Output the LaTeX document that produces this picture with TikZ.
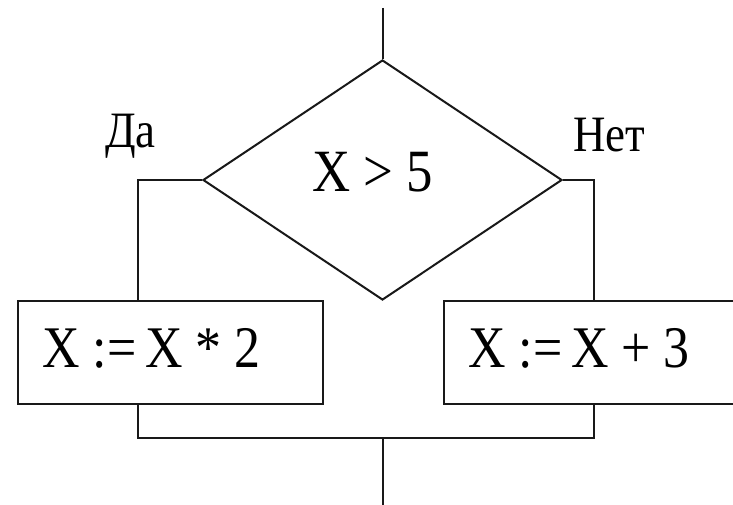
\documentclass[tikz,border=0pt]{standalone}
\usepackage{fontspec}
\newfontfamily\tms{LiberationSerif}[Extension=.ttf,UprightFont=*-Regular]
\usetikzlibrary{shapes.geometric}
\newcommand{\narrowtxt}[1]{\scalebox{0.88}[1]{#1}}
\begin{document}
\begin{tikzpicture}[x=1pt,y=-1pt,
  line/.style={line width=2pt,draw=black!90},
  boxstyle/.style={draw=black!90,line width=2pt,rectangle,inner sep=0pt,anchor=north west},
  bigtext/.style={font=\tms\fontsize{59}{60}\selectfont,inner sep=0pt},
  lbltext/.style={font=\tms\fontsize{51}{52}\selectfont,inner sep=0pt}]
\useasboundingbox (0,0) rectangle (733,505);
\clip (0,0) rectangle (733,505);
% decision
\node[diamond,draw=black!90,line width=2pt,minimum width=359pt,minimum height=240pt,aspect=1.496,inner sep=0pt] (d) at (382.5,180) {};
\node[bigtext,font=\tms\fontsize{60}{61}\selectfont,anchor=base] (cond) at (373,192) {\narrowtxt{X > 5}};
% boxes
\node[boxstyle,minimum width=305pt,minimum height=103pt] (boxL) at (17,300) {};
\node[boxstyle,minimum width=300pt,minimum height=103pt] (boxR) at (443,300) {};
\node[bigtext,anchor=base west] (tL) at (42,367) {\narrowtxt{X :=\,X * 2}};
\node[bigtext,anchor=base west] (tR) at (468,367) {\narrowtxt{X :=\,X + 3}};
% labels
\node[lbltext,anchor=base west] (yeslbl) at (105,148) {\narrowtxt{Да}};
\node[lbltext,anchor=base west] (nolbl) at (573,152) {\narrowtxt{Нет}};
% coordinates
\coordinate (in) at (382.5,8);
\coordinate (yes) at (138,180);
\coordinate (no) at (594,180);
\coordinate (join) at (382.5,438);
\coordinate (out) at (382.5,510);
% connectors
\draw[line] (in) -- (d.north);
\draw[line] (d.west) -- (yes) -- (yes |- boxL.north);
\draw[line] (d.east) -- (no) -- (no |- boxR.north);
\draw[line] (yes |- boxL.south) -- (yes |- join) -- (no |- join) -- (no |- boxR.south);
\draw[line] (join) -- (out);
\end{tikzpicture}
\end{document}
